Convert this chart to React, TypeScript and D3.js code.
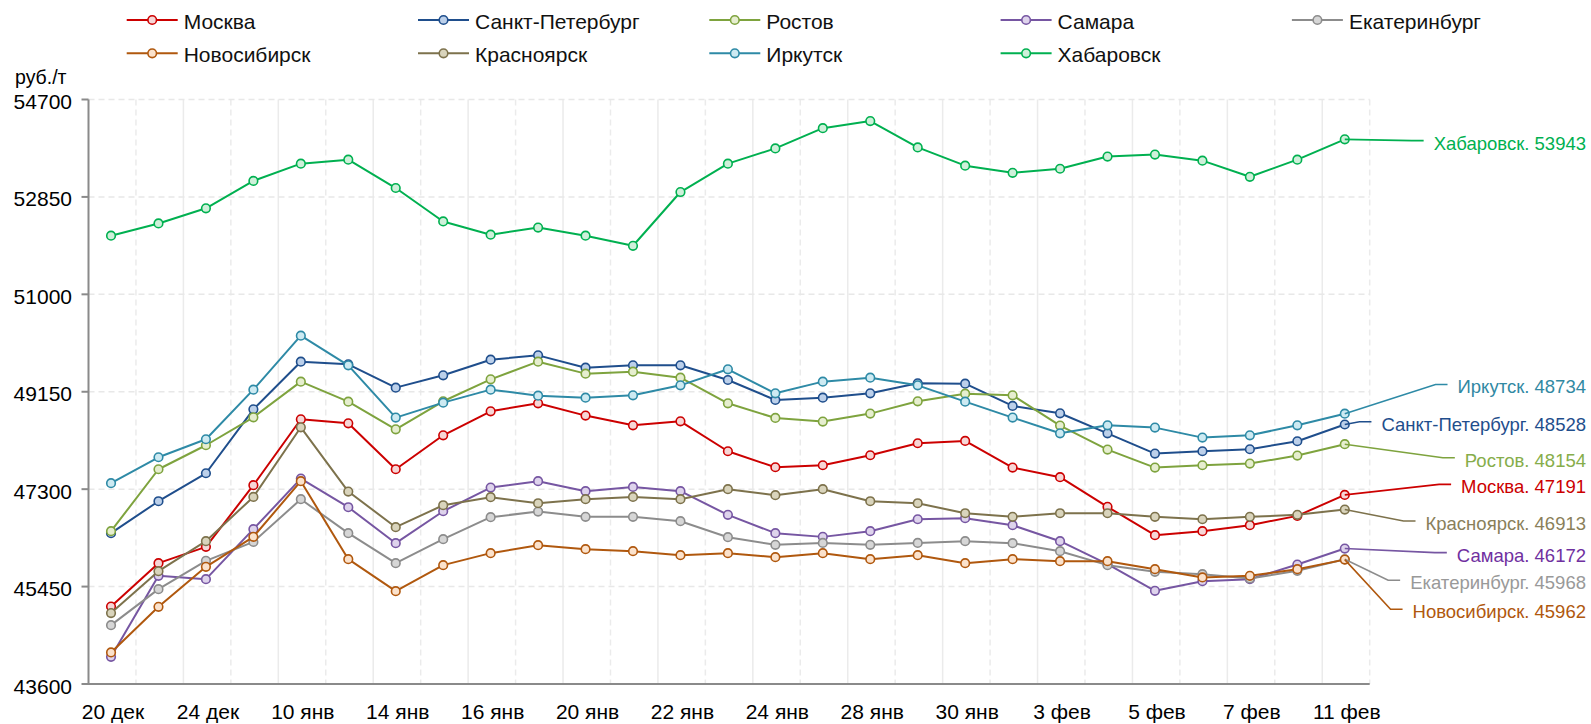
import React, { useEffect, useRef } from 'react';
import * as d3 from 'd3';

// ---- DATA ----
const tickLabels = ['20 дек', '24 дек', '10 янв', '14 янв', '16 янв', '20 янв', '22 янв', '24 янв', '28 янв', '30 янв', '3 фев', '5 фев', '7 фев', '11 фев'];
// 27 observations; every second one carries a tick label
const categories = ['20 дек', '', '24 дек', '', '10 янв', '', '14 янв', '', '16 янв', '', '20 янв', '', '22 янв', '', '24 янв', '', '28 янв', '', '30 янв', '', '3 фев', '', '5 фев', '', '7 фев', '', '11 фев'];
const yTicks = [43600, 45450, 47300, 49150, 51000, 52850, 54700];
const seriesNames = ['Москва', 'Санкт-Петербург', 'Ростов', 'Самара', 'Екатеринбург', 'Новосибирск', 'Красноярск', 'Иркутск', 'Хабаровск'];

const moskva = [45072, 45895, 46205, 47375, 48627, 48551, 47678, 48323, 48779, 48931, 48697, 48513, 48589, 48020, 47716, 47754, 47944, 48172, 48216, 47710, 47527, 46964, 46426, 46502, 46616, 46793, 47191];
const spb = [46464, 47071, 47602, 48817, 49721, 49671, 49228, 49462, 49759, 49841, 49607, 49652, 49652, 49373, 48994, 49038, 49120, 49310, 49304, 48880, 48741, 48361, 47976, 48020, 48058, 48210, 48528];
const rostov = [46502, 47678, 48134, 48665, 49342, 48962, 48437, 48969, 49386, 49721, 49494, 49532, 49418, 48931, 48652, 48583, 48735, 48969, 49114, 49082, 48507, 48051, 47710, 47754, 47786, 47938, 48154];
const samara = [44117, 45654, 45591, 46540, 47501, 46957, 46274, 46881, 47330, 47451, 47261, 47343, 47261, 46812, 46464, 46394, 46502, 46729, 46749, 46616, 46312, 45875, 45370, 45553, 45591, 45869, 46172];
const ekb = [44718, 45401, 45939, 46299, 47109, 46464, 45895, 46350, 46768, 46875, 46774, 46774, 46692, 46388, 46243, 46280, 46243, 46280, 46312, 46274, 46122, 45857, 45730, 45686, 45604, 45749, 45968];
const novosib = [44200, 45066, 45825, 46394, 47451, 45971, 45363, 45857, 46085, 46236, 46160, 46122, 46046, 46084, 46009, 46084, 45971, 46046, 45895, 45971, 45933, 45933, 45781, 45623, 45654, 45781, 45962];
const krasn = [44946, 45743, 46312, 47153, 48475, 47255, 46578, 46995, 47147, 47033, 47109, 47153, 47109, 47299, 47185, 47299, 47071, 47033, 46843, 46774, 46843, 46843, 46774, 46729, 46774, 46812, 46913];
const irk = [47413, 47906, 48248, 49190, 50215, 49652, 48659, 48943, 49190, 49076, 49038, 49082, 49272, 49576, 49120, 49342, 49418, 49272, 48962, 48659, 48361, 48513, 48469, 48279, 48323, 48513, 48734];
const khab = [52114, 52346, 52634, 53154, 53482, 53558, 53019, 52384, 52133, 52268, 52114, 51922, 52943, 53482, 53771, 54156, 54291, 53790, 53443, 53308, 53385, 53617, 53655, 53539, 53232, 53558, 53943];

// where the end-of-line data labels sit (value units on the y axis)
const labelAt = [47343, 48533, 47850, 46047, 45522, 44971, 46649, 49241, 53871];

const lineColors = ['#cc0000', '#1f4e8c', '#7ea33e', '#7656a2', '#8c8c8c', '#b0580e', '#7d724c', '#2e8aa6', '#00b050'];
const fillColors = ['#f6d6d6', '#bcd0ea', '#e6eecf', '#ded3ec', '#d6d6d6', '#fbe2cc', '#d9d4bc', '#cdeaf2', '#cff0da'];
const labelColors = ['#cc0000', '#1f4e8c', '#86ad4a', '#7030a0', '#999999', '#b0580e', '#8a7f5a', '#3189a3', '#00b050'];

const seriesValues = [moskva, spb, rostov, samara, ekb, novosib, krasn, irk, khab];

const W = 1591;
const H = 724;
const FONT = 'Arial, "Liberation Sans", Helvetica, sans-serif';

export default function App() {
  const ref = useRef<SVGSVGElement>(null);

  useEffect(() => {
    const svg = d3.select(ref.current);
    svg.selectAll('*').remove();

    const left = 88.5;
    const right = 1369.7;
    const top = 99.5;
    const bottom = 684;

    const x = d3.scaleBand<number>().domain(d3.range(categories.length)).range([left, right]).paddingInner(0).paddingOuter(0);
    const step = x.step();
    const cx = (i: number) => (x(i) as number) + step / 2 - 1.2;
    const y = d3.scaleLinear().domain([43600, 54700]).range([bottom, top]);

    // vertical gridlines (category boundaries)
    const grid = svg.append('g');
    for (let k = 1; k <= categories.length; k++) {
      const gx = left + k * step;
      grid.append('line')
        .attr('x1', gx).attr('x2', gx).attr('y1', top).attr('y2', bottom)
        .attr('stroke', '#ebebeb').attr('stroke-width', 1.5)
        .attr('stroke-dasharray', k % 2 === 1 ? '6,4' : null);
    }
    // horizontal gridlines
    yTicks.forEach((t) => {
      if (t === 43600) return;
      grid.append('line')
        .attr('x1', left).attr('x2', right).attr('y1', y(t)).attr('y2', y(t))
        .attr('stroke', '#e8e8e8').attr('stroke-width', 1.5).attr('stroke-dasharray', '6,4');
    });

    // axes
    const ax = svg.append('g');
    ax.append('line').attr('x1', left).attr('x2', left).attr('y1', top).attr('y2', bottom)
      .attr('stroke', '#8a8a8a').attr('stroke-width', 2);
    ax.append('line').attr('x1', left - 1).attr('x2', right).attr('y1', bottom).attr('y2', bottom)
      .attr('stroke', '#8a8a8a').attr('stroke-width', 2);
    yTicks.forEach((t) => {
      ax.append('line').attr('x1', left - 7).attr('x2', left).attr('y1', y(t)).attr('y2', y(t))
        .attr('stroke', '#8a8a8a').attr('stroke-width', 2);
      ax.append('text').attr('x', 72).attr('y', y(t) + 2)
        .attr('text-anchor', 'end').attr('dominant-baseline', 'central')
        .attr('font-family', FONT).attr('font-size', 21).attr('fill', '#000')
        .text(String(t));
    });
    ax.append('text').attr('x', 15).attr('y', 77)
      .attr('dominant-baseline', 'central')
      .attr('font-family', FONT).attr('font-size', 19.5).attr('fill', '#000')
      .text('руб./т');

    categories.forEach((c, i) => {
      if (!c) return;
      ax.append('text').attr('x', cx(i) + 2).attr('y', 711)
        .attr('text-anchor', 'middle').attr('dominant-baseline', 'central')
        .attr('font-family', FONT).attr('font-size', 21).attr('fill', '#000')
        .text(c);
    });

    // series
    const line = d3.line<number>().x((_, i) => cx(i)).y((v) => y(v));
    const plot = svg.append('g');
    seriesValues.forEach((vals, s) => {
      const g = plot.append('g');
      g.append('path').attr('d', line(vals) as string)
        .attr('fill', 'none').attr('stroke', lineColors[s]).attr('stroke-width', 2)
        .attr('stroke-linejoin', 'round');
      g.selectAll('circle').data(vals).enter().append('circle')
        .attr('cx', (_, i) => cx(i)).attr('cy', (v) => y(v)).attr('r', 4.3)
        .attr('fill', fillColors[s]).attr('stroke', lineColors[s]).attr('stroke-width', 1.6);
    });

    // end labels with leader lines
    const lab = svg.append('g');
    const textRight = 1586;
    seriesValues.forEach((vals, s) => {
      const last = vals[vals.length - 1];
      const ly = y(labelAt[s]);
      const t = lab.append('text').attr('x', textRight).attr('y', ly)
        .attr('text-anchor', 'end').attr('dominant-baseline', 'central')
        .attr('font-family', FONT).attr('font-size', 18.5).attr('fill', labelColors[s])
        .text(`${seriesNames[s]}. ${last}`);
      const w = (t.node() as SVGTextElement).getComputedTextLength();
      const start = textRight - w;
      const px = cx(vals.length - 1);
      const py = y(last);
      lab.append('polyline')
        .attr('points', `${px},${py} ${start - 22},${ly - 2.5} ${start - 10},${ly - 2.5}`)
        .attr('fill', 'none').attr('stroke', lineColors[s]).attr('stroke-width', 1.6);
    });

    // legend
    const leg = svg.append('g');
    seriesNames.forEach((name, s) => {
      const col = s % 5;
      const row = Math.floor(s / 5);
      const lx = 126.7 + col * 291.3;
      const lyy = row === 0 ? 20 : 53.3;
      leg.append('line').attr('x1', lx).attr('x2', lx + 51).attr('y1', lyy).attr('y2', lyy)
        .attr('stroke', lineColors[s]).attr('stroke-width', 2);
      leg.append('circle').attr('cx', lx + 25.5).attr('cy', lyy).attr('r', 4.3)
        .attr('fill', fillColors[s]).attr('stroke', lineColors[s]).attr('stroke-width', 1.6);
      leg.append('text').attr('x', lx + 57).attr('y', lyy + 1)
        .attr('dominant-baseline', 'central')
        .attr('font-family', FONT).attr('font-size', 21).attr('fill', '#111')
        .text(name);
    });
  }, []);

  return (
    <div style={{ position: 'absolute', left: 0, top: 0 }}>
      <svg ref={ref} width={W} height={H} style={{ display: 'block', background: '#fff' }} />
    </div>
  );
}
